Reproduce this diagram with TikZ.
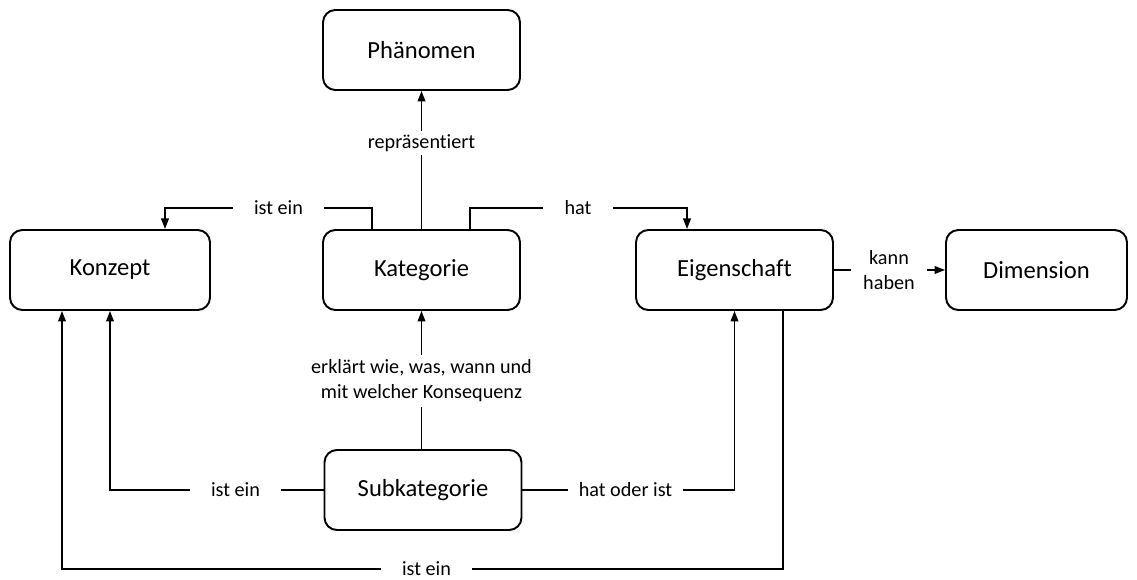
\documentclass[tikz,border=0pt]{standalone}
\usepackage{fontspec}
\setmainfont{Carlito}[Ligatures=NoCommon]
\usetikzlibrary{arrows.meta}
\begin{document}
\begin{tikzpicture}[x=0.02cm,y=-0.02cm,
  box/.style={draw,line width=1.1pt,rounded corners=7pt,minimum width=3.94cm,
    minimum height=1.6cm,font=\fontsize{14}{17}\selectfont},
  lab/.style={fill=white,font=\fontsize{11.5}{14.2}\selectfont,inner xsep=12pt,
    inner ysep=2pt,align=center},
  conn/.style={line width=0.9pt},
  arr/.style={conn,-{Triangle[length=6pt,width=4.4pt]}}]
\useasboundingbox (0,0) rectangle (1137,580);

% concept boxes
\node[box] (phae) at (421.5,50)  {Phänomen};
\node[box,minimum width=4cm] (kon) at (110,270) {Konzept};
\node[box] (kat)  at (421.5,270) {Kategorie};
\node[box] (eig)  at (734.5,270) {Eigenschaft};
\node[box,minimum width=3.62cm] (dim) at (1036.5,270) {Dimension};
\node[box] (sub)  at (423,490)   {Subkategorie};

% routing points
\coordinate (kl) at (372,208);
\coordinate (kr) at (470,208);
\coordinate (kb) at (62,569);
\coordinate (eb) at (783,569);

% Kategorie relations
\draw[arr] (kat.north) -- (phae.south);
\draw[arr] (kat.north -| kl) -- (kl) -| ([xshift=1.1cm]kon.north);
\draw[arr] (kat.north -| kr) -- (kr) -| ([xshift=-0.95cm]eig.north);
\draw[arr] (eig.east) -- (dim.west);

% Subkategorie relations
\draw[arr] (sub.north -| kat.south) -- (kat.south);
\draw[arr] (sub.west) -| (kon.south);
\draw[arr] (sub.east) -| (eig.south);

% Eigenschaft back to Konzept
\draw[arr] (eig.south -| eb) -- (eb) -- (kb) -- (kon.south -| kb);

% relation labels
\node[lab,inner xsep=3pt] (l1) at (421.5,143) {repräsentiert};
\node[lab] (l2) at (278.5,208) {ist ein};
\node[lab] (l3) at (578,208) {hat};
\node[lab,inner xsep=7pt] (l4) at (889,270) {kann\\haben};
\node[lab,inner xsep=3pt,inner ysep=3pt] (l5) at (421.5,381) {erklärt wie, was, wann und\\mit welcher Konsequenz};
\node[lab] (l6) at (235.5,490) {ist ein};
\node[lab,inner xsep=6pt] (l7) at (625.5,490) {hat oder ist};
\node[lab,inner ysep=1pt] (l8) at (426.5,569) {ist ein};
\end{tikzpicture}
\end{document}
